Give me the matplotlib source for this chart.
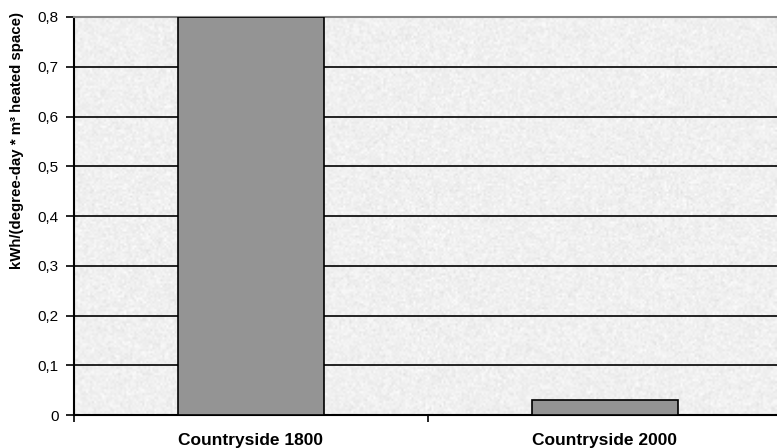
import numpy as np
import matplotlib.pyplot as plt
from matplotlib.ticker import FixedLocator

categories = ["Countryside 1800", "Countryside 2000"]
values = [0.8, 0.031]
yticks = [0, 0.1, 0.2, 0.3, 0.4, 0.5, 0.6, 0.7, 0.8]
ytick_labels = ["0", "0,1", "0,2", "0,3", "0,4", "0,5", "0,6", "0,7", "0,8"]

plt.rcParams["font.family"] = ["Liberation Sans", "DejaVu Sans"]

fig = plt.figure(figsize=(7.77, 4.48), dpi=100)
ax = fig.add_axes([74 / 777, 33 / 448, 1 - 74 / 777, 398 / 448])

# granite-like light gray texture behind the plot
rng = np.random.default_rng(3)
tex = 0.94 + 0.02 * rng.standard_normal((200, 350))
tex = np.clip(tex, 0.87, 0.995)
ax.imshow(tex, cmap="gray", vmin=0, vmax=1, extent=(0, 1, 0, 1),
          transform=ax.transAxes, aspect="auto", zorder=0,
          interpolation="bilinear")

x = np.arange(len(categories))
ax.bar(x, values, width=0.41, color="#949494", edgecolor="black",
       linewidth=1.2, zorder=3)

ax.set_xlim(-0.5, -0.5 + (777 - 74) / 354)
ax.set_ylim(0, 0.8)

ax.set_yticks(yticks)
ax.set_yticklabels(ytick_labels, fontsize=11)
ax.yaxis.grid(True, color="black", linewidth=1.2)
for line in ax.get_ygridlines():
    line.set_zorder(1)

ax.xaxis.set_major_locator(FixedLocator([-0.5, 0.5, 1.5]))
ax.xaxis.set_minor_locator(FixedLocator(x))
ax.set_xticklabels([])
ax.set_xticklabels(categories, minor=True, fontsize=12.5, fontweight="bold")
ax.tick_params(axis="x", which="minor", length=0, pad=13)
ax.tick_params(axis="x", which="major", length=5, width=1.2, direction="out")
ax.tick_params(axis="y", length=6, width=1.2, direction="out", pad=5)

ax.set_ylabel("kWh/(degree-day * m³ heated space)", fontsize=10.8,
              fontweight="bold")
ax.yaxis.set_label_coords(-0.0705, 0.69)

ax.spines["left"].set_linewidth(1.5)
ax.spines["bottom"].set_linewidth(1.5)
ax.spines["top"].set_color("#888888")
ax.spines["top"].set_linewidth(1.5)
ax.spines["right"].set_visible(False)

fig.savefig("out.png", dpi=100)
plt.close(fig)
